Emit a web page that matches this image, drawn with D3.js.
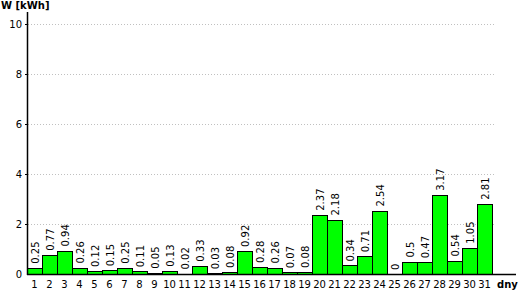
<!DOCTYPE html>
<html><head><meta charset="utf-8">
<script src="https://cdn.jsdelivr.net/npm/d3@7"></script>
<style>body{margin:0;background:#fff;} svg{display:block;} text{font-family:"DejaVu Sans",Verdana,sans-serif;}</style>
</head><body>
<svg id="c" width="520" height="290"></svg>
<script>
const days = d3.range(1, 32).map(String);
const values = [0.25,0.77,0.94,0.26,0.12,0.15,0.25,0.11,0.05,0.13,0.02,0.33,0.03,0.08,0.92,0.28,0.26,0.07,0.08,2.37,2.18,0.34,0.71,2.54,0,0.5,0.47,3.17,0.54,1.05,2.81];
const yTicks = [0, 2, 4, 6, 8, 10];
const yTitle = "W [kWh]";
const xTitle = "dny";

const svg = d3.select("#c");
const x = d3.scaleBand().domain(days).range([27, 492]).padding(0);
const y = d3.scaleLinear().domain([0, 10]).range([274, 24]);

// gridlines
svg.append("g").selectAll("line").data(yTicks.filter(d => d > 0)).join("line")
  .attr("x1", 28).attr("x2", 496)
  .attr("y1", d => Math.round(y(d)) + 0.5).attr("y2", d => Math.round(y(d)) + 0.5)
  .attr("stroke", "#c0c0c0").attr("stroke-dasharray", "1,2");

// y tick labels and ticks
const yg = svg.append("g");
yg.selectAll("text").data(yTicks).join("text")
  .attr("x", 22).attr("y", d => y(d) + 4)
  .attr("text-anchor", "end").attr("font-size", 10).attr("fill", "#000")
  .text(d => d);
yg.selectAll("line").data(yTicks.filter(d => d > 0)).join("line")
  .attr("x1", 25).attr("x2", 27)
  .attr("y1", d => Math.round(y(d)) + 0.5).attr("y2", d => Math.round(y(d)) + 0.5)
  .attr("stroke", "#000");

// bars
svg.append("g").selectAll("rect").data(values).join("rect")
  .attr("x", (d, i) => x(days[i]) + 0.5)
  .attr("y", d => Math.round(y(d)) + 0.5)
  .attr("width", x.bandwidth())
  .attr("height", d => Math.round(y(0)) - Math.round(y(d)))
  .attr("fill", "#00ff00").attr("stroke", "#000").attr("stroke-width", 1)
  .attr("display", d => d > 0 ? null : "none");

// value labels
svg.append("g").selectAll("text").data(values).join("text")
  .attr("transform", (d, i) => `translate(${x(days[i]) + x.bandwidth() / 2 + 4},${y(d) - 4}) rotate(-90)`)
  .attr("font-size", 10).attr("fill", "#000")
  .text(d => String(d));

// axes lines
svg.append("line").attr("x1", 27.5).attr("x2", 27.5).attr("y1", 12).attr("y2", 275).attr("stroke", "#000").attr("stroke-width", 1.5);
svg.append("line").attr("x1", 27).attr("x2", 516).attr("y1", 274.5).attr("y2", 274.5).attr("stroke", "#000").attr("stroke-width", 1.5);

// x tick labels
svg.append("g").selectAll("text").data(days).join("text")
  .attr("x", d => x(d) + x.bandwidth() / 2).attr("y", 288)
  .attr("text-anchor", "middle").attr("font-size", 10).attr("fill", "#000")
  .text(d => d);

svg.append("text").attr("x", 1).attr("y", 9).attr("font-size", 10).attr("font-weight", "bold").text(yTitle);
svg.append("text").attr("x", 497).attr("y", 288).attr("font-size", 10).attr("font-weight", "bold").text(xTitle);
</script>
</body></html>
